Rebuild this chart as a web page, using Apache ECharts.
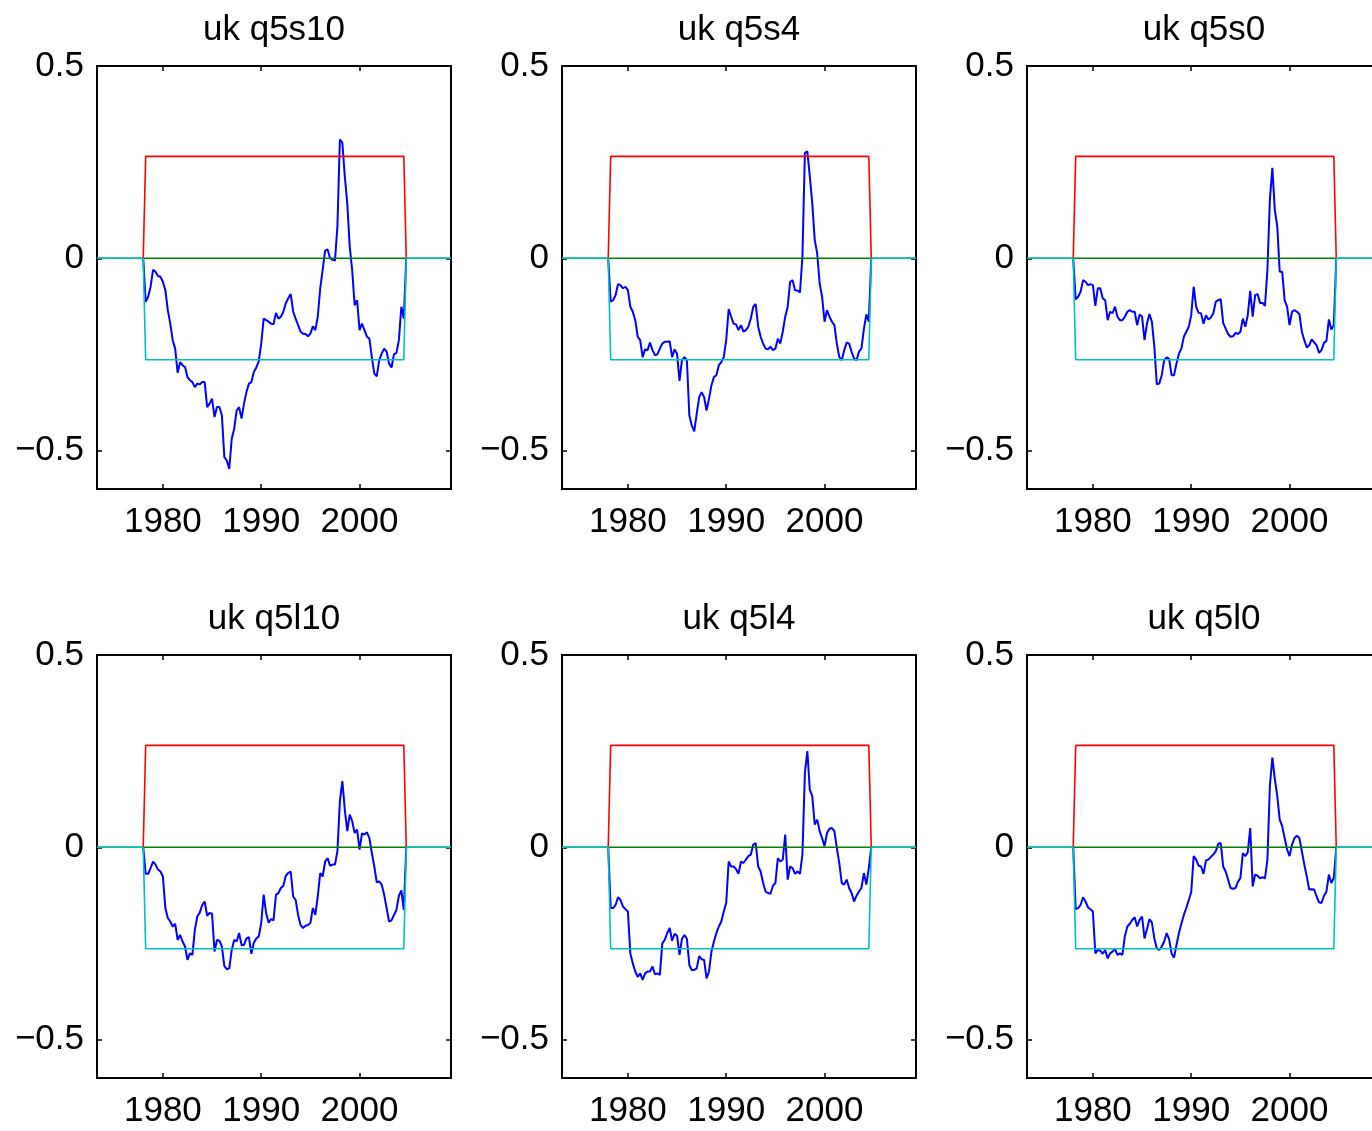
<!DOCTYPE html>
<html>
<head>
<meta charset="utf-8">
<script src="https://cdn.jsdelivr.net/npm/echarts@6/dist/echarts.min.js"></script>
<style>
html,body{margin:0;padding:0;background:#fff;}
#chart{width:1372px;height:1131px;}
</style>
</head>
<body>
<div id="chart"></div>
<script>
// ---------------- DATA ----------------
const panelTitles = ['uk q5s10', 'uk q5s4', 'uk q5s0', 'uk q5l10', 'uk q5l4', 'uk q5l0'];

// quarterly sample, 1978.25 .. 2004.5 (106 quarters); zero at 1978.0 and 2004.75
const sampleFirst = 1978.25;
const sampleStep = 0.25;
const sampleEdgeStart = 1978.0;
const sampleEdgeEnd = 2004.75;

const q5s10 = [
 -0.113,-0.100,-0.074,-0.030,-0.035,-0.046,-0.048,-0.061,-0.083,-0.135,
 -0.170,-0.213,-0.235,-0.298,-0.270,-0.278,-0.283,-0.309,-0.317,-0.322,
 -0.335,-0.326,-0.328,-0.322,-0.322,-0.387,-0.378,-0.365,-0.413,-0.387,
 -0.387,-0.409,-0.517,-0.526,-0.548,-0.470,-0.443,-0.396,-0.387,-0.417,
 -0.378,-0.348,-0.326,-0.322,-0.296,-0.284,-0.268,-0.222,-0.157,-0.161,
 -0.165,-0.170,-0.172,-0.142,-0.157,-0.152,-0.139,-0.117,-0.104,-0.093,
 -0.139,-0.157,-0.174,-0.191,-0.196,-0.197,-0.203,-0.196,-0.177,-0.187,
 -0.152,-0.078,-0.030,0.020,0.023,0.000,-0.004,-0.006,0.083,0.309,
 0.300,0.213,0.143,0.030,-0.030,-0.122,-0.109,-0.187,-0.170,-0.187,
 -0.204,-0.209,-0.257,-0.300,-0.307,-0.265,-0.248,-0.235,-0.243,-0.274,
 -0.284,-0.250,-0.246,-0.213,-0.126,-0.157
];
const q5s4 = [
 -0.113,-0.109,-0.096,-0.067,-0.070,-0.078,-0.074,-0.083,-0.126,-0.139,
 -0.161,-0.204,-0.213,-0.257,-0.237,-0.239,-0.219,-0.239,-0.252,-0.250,
 -0.235,-0.222,-0.217,-0.217,-0.216,-0.257,-0.237,-0.248,-0.319,-0.265,
 -0.257,-0.265,-0.409,-0.435,-0.450,-0.404,-0.361,-0.348,-0.361,-0.396,
 -0.365,-0.330,-0.309,-0.304,-0.278,-0.270,-0.257,-0.213,-0.132,-0.152,
 -0.170,-0.172,-0.187,-0.174,-0.191,-0.187,-0.178,-0.157,-0.126,-0.119,
 -0.178,-0.204,-0.222,-0.235,-0.237,-0.230,-0.239,-0.235,-0.209,-0.222,
 -0.191,-0.152,-0.126,-0.061,-0.057,-0.083,-0.084,-0.089,0.004,0.274,
 0.278,0.213,0.143,0.048,0.013,-0.065,-0.100,-0.165,-0.135,-0.152,
 -0.165,-0.174,-0.222,-0.257,-0.265,-0.239,-0.219,-0.222,-0.243,-0.261,
 -0.265,-0.243,-0.235,-0.184,-0.146,-0.165
];
const q5s0 = [
 -0.107,-0.100,-0.087,-0.057,-0.061,-0.070,-0.067,-0.070,-0.124,-0.078,
 -0.078,-0.104,-0.109,-0.161,-0.139,-0.143,-0.126,-0.152,-0.161,-0.161,
 -0.152,-0.139,-0.135,-0.139,-0.139,-0.174,-0.146,-0.152,-0.213,-0.170,
 -0.145,-0.165,-0.230,-0.328,-0.326,-0.304,-0.265,-0.258,-0.261,-0.304,
 -0.304,-0.274,-0.248,-0.235,-0.204,-0.191,-0.178,-0.148,-0.074,-0.126,
 -0.142,-0.143,-0.170,-0.148,-0.159,-0.154,-0.143,-0.113,-0.109,-0.106,
 -0.168,-0.183,-0.197,-0.204,-0.203,-0.194,-0.197,-0.191,-0.157,-0.178,
 -0.148,-0.085,-0.152,-0.096,-0.093,-0.116,-0.116,-0.124,-0.030,0.152,
 0.235,0.126,0.083,-0.035,-0.035,-0.109,-0.126,-0.174,-0.139,-0.135,
 -0.139,-0.145,-0.191,-0.213,-0.232,-0.226,-0.211,-0.219,-0.226,-0.246,
 -0.239,-0.220,-0.215,-0.159,-0.185,-0.174
];
const q5l10 = [
 -0.069,-0.069,-0.054,-0.037,-0.045,-0.058,-0.063,-0.076,-0.158,-0.184,
 -0.193,-0.206,-0.199,-0.241,-0.228,-0.245,-0.258,-0.293,-0.276,-0.280,
 -0.215,-0.180,-0.170,-0.150,-0.141,-0.178,-0.171,-0.173,-0.271,-0.241,
 -0.243,-0.258,-0.309,-0.317,-0.315,-0.267,-0.241,-0.245,-0.223,-0.254,
 -0.254,-0.237,-0.234,-0.277,-0.248,-0.237,-0.232,-0.197,-0.123,-0.171,
 -0.196,-0.187,-0.190,-0.123,-0.119,-0.106,-0.100,-0.074,-0.067,-0.063,
 -0.128,-0.137,-0.176,-0.202,-0.210,-0.204,-0.202,-0.197,-0.158,-0.176,
 -0.128,-0.067,-0.076,-0.037,-0.028,-0.048,-0.045,-0.045,-0.010,0.120,
 0.172,0.098,0.042,0.085,0.068,0.037,0.046,-0.006,0.036,0.033,
 0.039,0.024,-0.015,-0.050,-0.091,-0.089,-0.097,-0.123,-0.158,-0.193,
 -0.190,-0.176,-0.163,-0.126,-0.112,-0.163
];
const q5l4 = [
 -0.158,-0.158,-0.150,-0.130,-0.137,-0.154,-0.161,-0.167,-0.276,-0.302,
 -0.323,-0.337,-0.328,-0.345,-0.328,-0.323,-0.323,-0.310,-0.330,-0.328,
 -0.332,-0.250,-0.241,-0.223,-0.210,-0.243,-0.225,-0.230,-0.280,-0.238,
 -0.228,-0.238,-0.306,-0.319,-0.319,-0.315,-0.283,-0.291,-0.293,-0.341,
 -0.323,-0.271,-0.245,-0.223,-0.206,-0.193,-0.167,-0.145,-0.037,-0.050,
 -0.050,-0.057,-0.069,-0.037,-0.041,-0.032,-0.023,-0.019,0.007,0.011,
 -0.050,-0.063,-0.093,-0.115,-0.119,-0.121,-0.100,-0.093,-0.028,-0.037,
 -0.032,0.033,-0.084,-0.050,-0.054,-0.069,-0.063,-0.069,-0.019,0.194,
 0.250,0.150,0.133,0.059,0.072,0.042,0.024,0.003,0.037,0.048,
 0.050,0.042,-0.002,-0.041,-0.093,-0.097,-0.084,-0.106,-0.119,-0.141,
 -0.126,-0.115,-0.106,-0.067,-0.097,-0.054
];
const q5l0 = [
 -0.161,-0.158,-0.150,-0.130,-0.141,-0.156,-0.161,-0.167,-0.276,-0.267,
 -0.269,-0.277,-0.267,-0.289,-0.276,-0.271,-0.265,-0.280,-0.276,-0.280,
 -0.232,-0.206,-0.199,-0.189,-0.182,-0.206,-0.189,-0.180,-0.237,-0.213,
 -0.187,-0.196,-0.237,-0.263,-0.267,-0.258,-0.245,-0.223,-0.239,-0.276,
 -0.287,-0.254,-0.223,-0.199,-0.176,-0.158,-0.137,-0.117,-0.023,-0.032,
 -0.048,-0.050,-0.069,-0.034,-0.032,-0.025,-0.019,-0.010,0.009,0.011,
 -0.050,-0.063,-0.084,-0.106,-0.108,-0.106,-0.090,-0.080,-0.015,-0.023,
 -0.013,0.050,-0.102,-0.071,-0.074,-0.081,-0.078,-0.081,-0.032,0.160,
 0.233,0.178,0.133,0.072,0.055,0.024,-0.006,-0.023,0.007,0.024,
 0.030,0.024,-0.010,-0.045,-0.076,-0.110,-0.109,-0.110,-0.128,-0.143,
 -0.145,-0.126,-0.115,-0.071,-0.093,-0.080
];
const panelValues = [q5s10, q5s4, q5s0, q5l10, q5l4, q5l0];

// confidence bands (flat)
const upperBand = 0.265;
const lowerBand = -0.264;

// axes
const xMin = 1973.3, xMax = 2009.3;
const yMin = -0.6, yMax = 0.5;
const xTicks = [1980, 1990, 2000];
const yTicks = [-0.5, 0, 0.5];

// ---------------- LAYOUT ----------------
const colLeft = [97, 562, 1027];
const rowTop = [66, 655];
const plotW = 354, plotH = 423;
const FONT = '"Liberation Sans", Arial, Helvetica, sans-serif';
const FS = 35;

function fmtY(v) {
  if (v === 0) return '0';
  return String(v).replace('-', '\u2212');
}

const grids = [], xAxes = [], yAxes = [], series = [], titles = [];

panelTitles.forEach((name, i) => {
  const col = i % 3, row = Math.floor(i / 3);
  grids.push({ left: colLeft[col], top: rowTop[row], width: plotW, height: plotH,
    show: false, outerBoundsMode: 'none', containLabel: false });
  const xBase = {
    type: 'value', gridIndex: i, min: xMin, max: xMax,
    splitLine: { show: false },
    axisLine: { show: true, onZero: false, lineStyle: { color: '#000', width: 2 } },
    axisTick: { show: true, inside: true, length: 5, customValues: xTicks, lineStyle: { color: '#000', width: 1.5 } }
  };
  xAxes.push(Object.assign({}, xBase, { position: 'bottom',
    axisLabel: { show: true, customValues: xTicks, margin: 16, color: '#000', fontSize: FS, fontFamily: FONT,
      formatter: v => String(v) } }));
  xAxes.push(Object.assign({}, xBase, { position: 'top', axisLabel: { show: false } }));
  const yBase = {
    type: 'value', gridIndex: i, min: yMin, max: yMax,
    splitLine: { show: false },
    axisLine: { show: true, onZero: false, lineStyle: { color: '#000', width: 2 } },
    axisTick: { show: true, inside: true, length: 5, customValues: yTicks, lineStyle: { color: '#000', width: 1.5 } }
  };
  yAxes.push(Object.assign({}, yBase, { position: 'left',
    axisLabel: { show: true, customValues: yTicks, margin: 13, color: '#000', fontSize: FS, fontFamily: FONT,
      padding: [9, 0, 0, 0], formatter: fmtY } }));
  yAxes.push(Object.assign({}, yBase, { position: 'right', axisLabel: { show: false } }));

  const xi = i * 2, yi = i * 2;
  const vals = panelValues[i];
  const blue = [[sampleEdgeStart, 0]];
  vals.forEach((v, k) => blue.push([sampleFirst + k * sampleStep, v]));
  blue.push([sampleEdgeEnd, 0]);
  const lastQ = sampleFirst + (vals.length - 1) * sampleStep;

  const common = { type: 'line', xAxisIndex: xi, yAxisIndex: yi, symbol: 'none', silent: true, animation: false, clip: true };
  series.push(Object.assign({}, common, { data: blue, lineStyle: { color: '#0000ff', width: 2 } }));
  series.push(Object.assign({}, common, { data: [[xMin, 0], [xMax, 0]], lineStyle: { color: '#008000', width: 1.6 } }));
  series.push(Object.assign({}, common, { data: [[sampleEdgeStart, 0], [sampleFirst, upperBand], [lastQ, upperBand], [sampleEdgeEnd, 0]],
    lineStyle: { color: '#ff0000', width: 1.6 } }));
  series.push(Object.assign({}, common, { data: [[xMin, 0], [sampleEdgeStart, 0], [sampleFirst, lowerBand], [lastQ, lowerBand], [sampleEdgeEnd, 0], [xMax, 0]],
    lineStyle: { color: '#00bfbf', width: 1.6 } }));

  titles.push({ text: name, left: colLeft[col] + plotW / 2, top: rowTop[row] - 53, textAlign: 'center', padding: 0,
    textStyle: { color: '#000', fontSize: FS, fontWeight: 'normal', fontFamily: FONT } });
});

const chart = echarts.init(document.getElementById('chart'), null, { renderer: 'canvas' });
chart.setOption({
  backgroundColor: '#fff',
  animation: false,
  title: titles,
  grid: grids,
  xAxis: xAxes,
  yAxis: yAxes,
  series: series
});
</script>
</body>
</html>
